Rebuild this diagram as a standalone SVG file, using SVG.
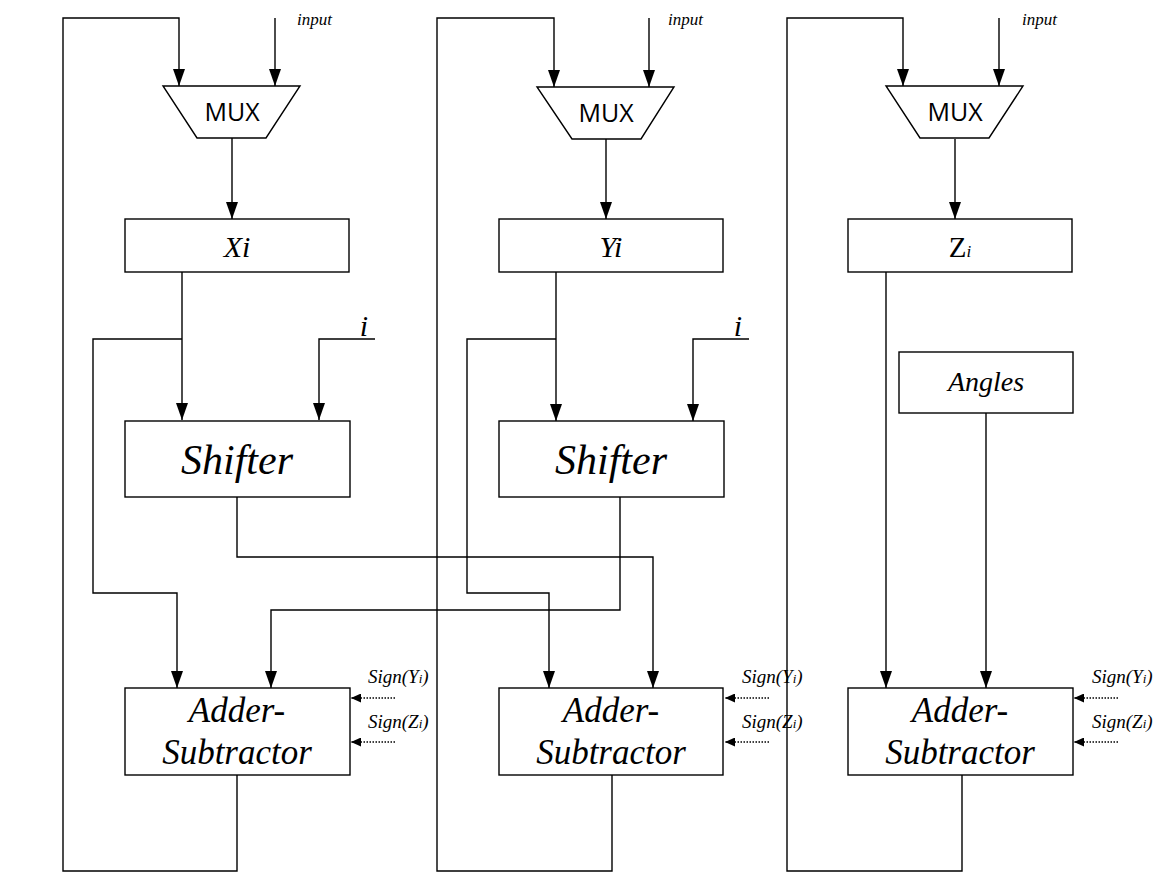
<svg xmlns="http://www.w3.org/2000/svg" width="1168" height="873" viewBox="0 0 1168 873">
<defs>
<marker id="ah" viewBox="0 0 17 12" refX="17" refY="6" markerWidth="17" markerHeight="12" markerUnits="userSpaceOnUse" orient="auto">
<path d="M0,0 L17,6 L0,12 Z" fill="#000"/>
</marker>
<marker id="ahs" viewBox="0 0 10 9" refX="10" refY="4.5" markerWidth="10" markerHeight="9" markerUnits="userSpaceOnUse" orient="auto">
<path d="M0,0 L10,4.5 L0,9 Z" fill="#000"/>
</marker>
<style>
.w{fill:none;stroke:#000;stroke-width:1.4}
.a{marker-end:url(#ah)}
.d{fill:none;stroke:#000;stroke-width:1.3;stroke-dasharray:1.5 1.5;marker-end:url(#ahs)}
.b{fill:#fff;stroke:#000;stroke-width:1.4}
.mux{font-family:"Open Sans","Liberation Sans",sans-serif;font-size:25px;text-anchor:middle}
.t{font-family:"Liberation Serif","Times New Roman",serif;font-style:italic;text-anchor:middle}
.s{font-family:"Liberation Serif","Times New Roman",serif;font-style:italic;font-size:19px}
.in{font-family:"Liberation Serif","Times New Roman",serif;font-style:italic;font-size:17px}
</style>
</defs>
<rect width="1168" height="873" fill="#fff"/>
<g id="connectors">
<path class="w a" d="M237,775 V871 H63 V18 H179 V86"/>
<path class="w a" d="M275,18 V86"/>
<path class="w a" d="M232,138 V219"/>
<path class="w a" d="M182,272 V420"/>
<path class="w a" d="M182,339 H93 V593 H177 V688"/>
<path class="w a" d="M375,339 H319 V420"/>
<path class="w a" d="M237,497 V557 H653 V688"/>
<path class="w a" d="M612,775 V871 H437 V18 H554 V87"/>
<path class="w a" d="M649,18 V87"/>
<path class="w a" d="M606,139 V219"/>
<path class="w a" d="M556,272 V421"/>
<path class="w a" d="M556,339 H467 V593 H549 V688"/>
<path class="w a" d="M749,339 H693 V421"/>
<path class="w a" d="M620,497 V610 H271 V688"/>
<path class="w a" d="M962,775 V871 H787 V18 H903 V86"/>
<path class="w a" d="M999,18 V86"/>
<path class="w a" d="M955,139 V219"/>
<path class="w a" d="M886,272 V688"/>
<path class="w a" d="M986,413 V688"/>
<path class="d" d="M395,698 H351"/>
<path class="d" d="M395,742 H351"/>
<path class="d" d="M769,698 H725"/>
<path class="d" d="M769,742 H725"/>
<path class="d" d="M1118,698 H1074"/>
<path class="d" d="M1118,742 H1074"/>
</g>
<g id="input1"><text class="in" x="297" y="25">input</text></g>
<g id="input2"><text class="in" x="668" y="25">input</text></g>
<g id="input3"><text class="in" x="1022" y="25">input</text></g>
<g id="mux1"><path class="b" d="M163,86 H300 L266,138 H197 Z"/><text class="mux" x="232" y="121">MUX</text></g>
<g id="mux2"><path class="b" d="M537,87 H674 L641,139 H572 Z"/><text class="mux" x="606" y="122">MUX</text></g>
<g id="mux3"><path class="b" d="M886,86 H1023 L989,138 H920 Z"/><text class="mux" x="955" y="121">MUX</text></g>
<g id="xi"><rect class="b" x="125" y="219" width="224" height="53"/><text class="t" x="237" y="257" font-size="30">Xi</text></g>
<g id="yi"><rect class="b" x="499" y="219" width="224" height="53"/><text class="t" x="611" y="257" font-size="30">Yi</text></g>
<g id="zi"><rect class="b" x="848" y="219" width="224" height="53"/><text x="960" y="257" font-family="Liberation Serif,serif" font-size="29" text-anchor="middle">Z<tspan font-size="17" font-style="italic">i</tspan></text></g>
<g id="i1"><text class="t" x="364" y="336" font-size="30">i</text></g>
<g id="i2"><text class="t" x="738" y="336" font-size="30">i</text></g>
<g id="shifter1"><rect class="b" x="125" y="421" width="225" height="76"/><text class="t" x="237" y="474" font-size="42">Shifter</text></g>
<g id="shifter2"><rect class="b" x="499" y="421" width="225" height="76"/><text class="t" x="611" y="474" font-size="42">Shifter</text></g>
<g id="angles"><rect class="b" x="899" y="352" width="174" height="61"/><text class="t" x="986" y="391" font-size="28">Angles</text></g>
<g id="adder1"><rect class="b" x="125" y="688" width="225" height="87"/><text class="t" x="237" y="722" font-size="35">Adder-</text><text class="t" x="237" y="764" font-size="35">Subtractor</text></g>
<g id="adder2"><rect class="b" x="499" y="688" width="224" height="87"/><text class="t" x="611" y="722" font-size="35">Adder-</text><text class="t" x="611" y="764" font-size="35">Subtractor</text></g>
<g id="adder3"><rect class="b" x="848" y="688" width="225" height="87"/><text class="t" x="960" y="722" font-size="35">Adder-</text><text class="t" x="960" y="764" font-size="35">Subtractor</text></g>
<g id="signs1"><text class="s" x="368" y="683">Sign(Y<tspan font-size="13">i</tspan>)</text><text class="s" x="368" y="728">Sign(Z<tspan font-size="13">i</tspan>)</text></g>
<g id="signs2"><text class="s" x="742" y="683">Sign(Y<tspan font-size="13">i</tspan>)</text><text class="s" x="742" y="728">Sign(Z<tspan font-size="13">i</tspan>)</text></g>
<g id="signs3"><text class="s" x="1092" y="683">Sign(Y<tspan font-size="13">i</tspan>)</text><text class="s" x="1092" y="728">Sign(Z<tspan font-size="13">i</tspan>)</text></g>
</svg>
